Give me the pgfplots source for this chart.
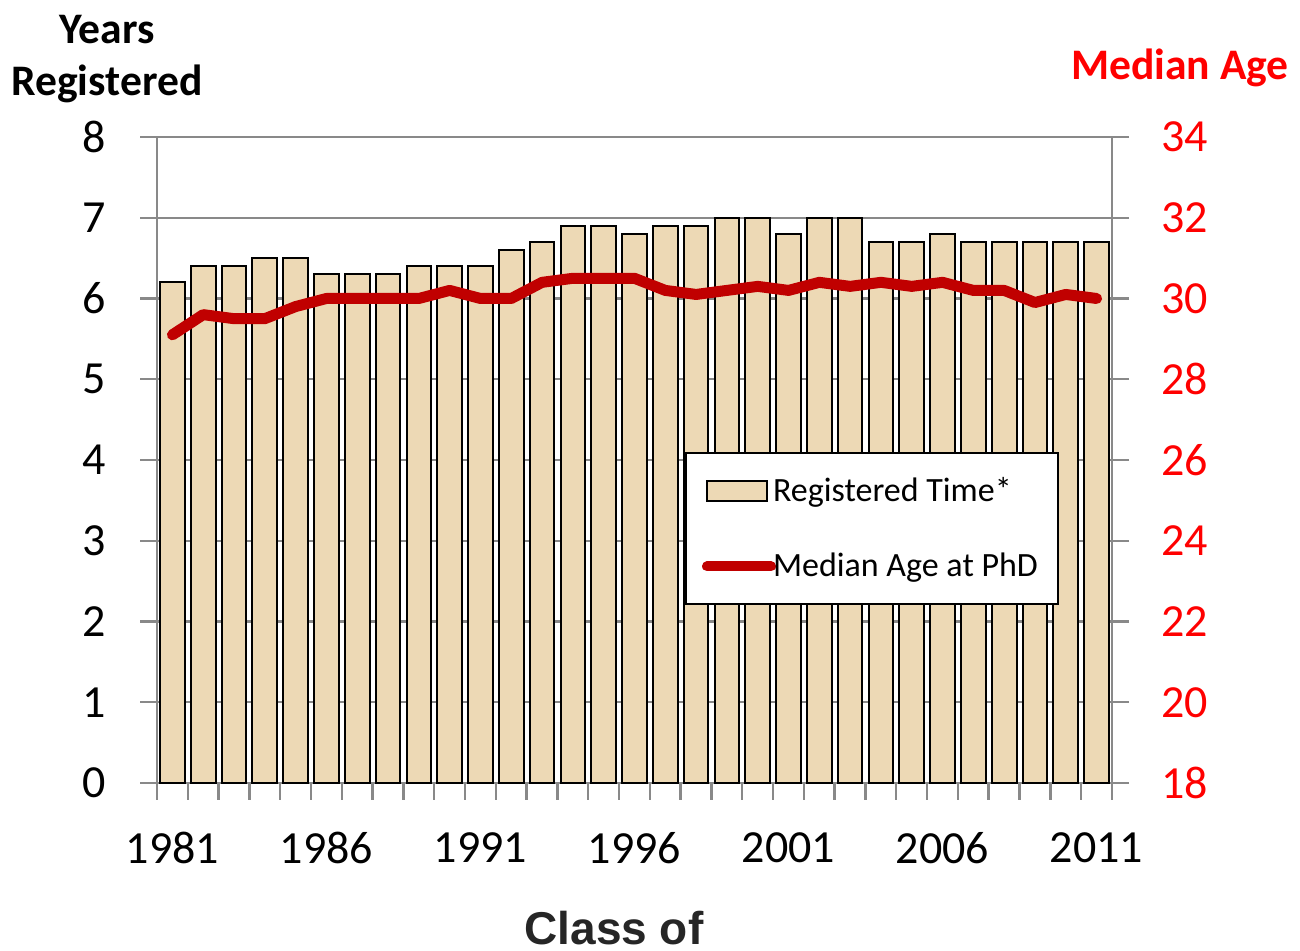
\documentclass[border=0pt]{standalone}
\usepackage{fontspec}
\setmainfont{Carlito}
\newfontfamily\arialfont{Liberation Sans}
\usepackage{pgfplots}
\pgfplotsset{compat=1.18}
\definecolor{barfill}{RGB}{237,217,181}
\definecolor{linered}{RGB}{192,0,0}
\definecolor{axgray}{RGB}{137,137,137}
\begin{document}
\begin{tikzpicture}
\path[use as bounding box] (-78.5pt,-84pt) rectangle (571.5pt,391.5pt);
\begin{axis}[
  at={(0pt,0pt)}, anchor=south west,
  scale only axis, width=477.5pt, height=323pt,
  xmin=1980.5, xmax=2011.5, ymin=0, ymax=8,
  ytick={0,1,...,8},
  xtick={1980.5,1981.5,...,2011.5},
  xticklabels={},
  extra x ticks={1981,1986,1991,1996,2001,2006,2011},
  extra x tick labels={1981,1986,1991,1996,2001,2006,2011},
  extra x tick style={major tick length=0pt, grid=none},
  xtick pos=bottom, ytick pos=left,
  tick align=outside, major tick length=8.5pt,
  tick style={axgray, line width=1.2pt},
  axis line style={axgray, line width=1.2pt},
  ymajorgrids, major grid style={axgray, line width=1.2pt},
  /pgf/number format/assume math mode=true,
  /pgf/number format/1000 sep={},
  ticklabel style={font=\fontsize{23}{26}\selectfont, inner sep=0pt},
  yticklabel style={anchor=east, xshift=-17pt},
  xticklabel style={anchor=north, yshift=-24.5pt},
  ybar, bar width=0.8,
  clip=false,
]
\addplot[fill=barfill, draw=black, line width=1pt] coordinates {
(1981,6.2) (1982,6.4) (1983,6.4) (1984,6.5) (1985,6.5) (1986,6.3) (1987,6.3) (1988,6.3)
(1989,6.4) (1990,6.4) (1991,6.4) (1992,6.6) (1993,6.7) (1994,6.9) (1995,6.9) (1996,6.8)
(1997,6.9) (1998,6.9) (1999,7.0) (2000,7.0) (2001,6.8) (2002,7.0) (2003,7.0) (2004,6.7)
(2005,6.7) (2006,6.8) (2007,6.7) (2008,6.7) (2009,6.7) (2010,6.7) (2011,6.7)};
\node[font=\bfseries\fontsize{21.8}{26}\selectfont, align=center] at (axis description cs:-0.0524,1.121) {Years\\Registered};
\node[font=\bfseries\fontsize{21.8}{24}\selectfont, text=red] at (axis description cs:1.0712,1.107) {Median Age};
\node[font=\arialfont\bfseries\fontsize{23}{26}\selectfont, text=black!85] at (axis description cs:0.4785,-0.224) {Class of};
\end{axis}
\begin{axis}[
  at={(0pt,0pt)}, anchor=south west,
  scale only axis, width=477.5pt, height=323pt,
  xmin=1980.5, xmax=2011.5, ymin=18, ymax=34,
  ytick={18,20,...,34},
  axis y line*=right, axis x line=none,
  tick align=outside, major tick length=8.5pt,
  tick style={axgray, line width=1.2pt},
  axis line style={axgray, line width=1.2pt},
  /pgf/number format/assume math mode=true,
  yticklabel style={font=\fontsize{23}{26}\selectfont, text=red, inner sep=0pt, anchor=west, xshift=16pt},
  legend style={at={(axis description cs:0.5529,0.5124)}, anchor=north west,
    draw=black, line width=1pt, font=\fontsize{17}{20}\selectfont,
    inner xsep=8pt, inner ysep=10pt, row sep=20.5pt, column sep=-3.5pt},
  legend cell align=left,
]
\addlegendimage{legend image code/.code={\draw[fill=barfill,draw=black,line width=1pt] (0pt,-5pt) rectangle (30pt,5pt);}}
\addlegendentry{Registered Time*}
\addplot[linered, line width=5.5pt, line join=round, line cap=round,
  legend image code/.code={\draw[linered,line width=5pt,line cap=round] (0pt,0pt) -- (32pt,0pt);}] coordinates {
(1981,29.1) (1982,29.6) (1983,29.5) (1984,29.5) (1985,29.8) (1986,30.0) (1987,30.0) (1988,30.0)
(1989,30.0) (1990,30.2) (1991,30.0) (1992,30.0) (1993,30.4) (1994,30.5) (1995,30.5) (1996,30.5)
(1997,30.2) (1998,30.1) (1999,30.2) (2000,30.3) (2001,30.2) (2002,30.4) (2003,30.3) (2004,30.4)
(2005,30.3) (2006,30.4) (2007,30.2) (2008,30.2) (2009,29.9) (2010,30.1) (2011,30.0)};
\addlegendentry{Median Age at PhD}
\end{axis}
\end{tikzpicture}
\end{document}
